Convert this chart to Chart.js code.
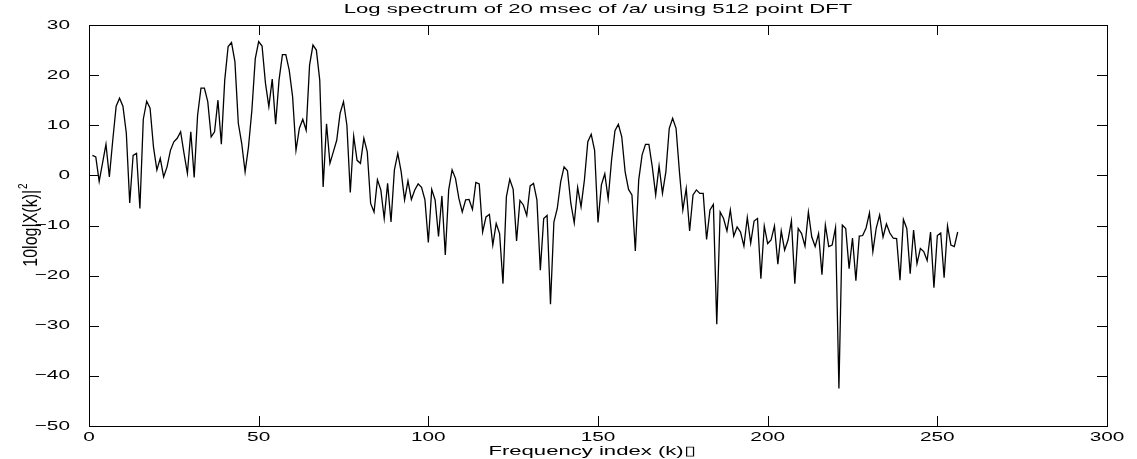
<!DOCTYPE html>
<html>
<head>
<meta charset="utf-8">
<title>Log spectrum</title>
<script src="https://cdn.jsdelivr.net/npm/chart.js@4/dist/chart.umd.min.js"></script>
<style>
  html, body { margin: 0; padding: 0; background: #fff; }
  canvas { display: block; }
</style>
</head>
<body>
<canvas id="chart" width="1137" height="459"></canvas>
<script>
// texts
const chartTitle = 'Log spectrum of 20 msec of /a/ using 512 point DFT';
const xTitle = 'Frequency index (k)\u25AF';
const yTitle = '10log|X(k)|';
const yTitleSup = '2';

// axes
const xTicks = [0, 50, 100, 150, 200, 250, 300];
const yTicks = [-50, -40, -30, -20, -10, 0, 10, 20, 30];

// first DFT bin plotted, values in dB
const firstIndex = 1;
const logSpectrum = [
  4.0, 3.7, -1.2, 2.5, 6.2, -0.3, 7.0, 13.8, 15.4, 13.8,
  8.4, -5.5, 4.0, 4.4, -6.6, 11.2, 14.8, 13.4, 5.7, 1.1,
  3.4, -0.3, 1.7, 5.0, 6.7, 7.4, 8.7, 4.4, 0.4, 8.7,
  -0.4, 12.0, 17.4, 17.4, 14.7, 7.7, 8.7, 15.0, 6.2, 19.0,
  25.7, 26.5, 22.7, 10.4, 6.4, 0.7, 5.7, 13.0, 23.3, 26.7,
  25.8, 18.4, 13.7, 19.2, 10.2, 19.0, 24.1, 24.1, 21.0, 15.7,
  5.0, 9.4, 11.2, 9.0, 22.0, 26.0, 25.0, 19.0, -2.3, 10.3,
  2.4, 4.7, 7.0, 12.4, 14.7, 10.0, -3.4, 7.8, 3.0, 2.4,
  7.4, 4.7, -5.6, -7.3, -0.9, -2.9, -8.6, -1.6, -9.3, 1.1,
  4.4, 0.7, -4.9, -1.1, -4.8, -2.9, -1.7, -2.4, -4.9, -13.4,
  -2.8, -4.9, -12.2, -4.1, -15.9, -2.9, 1.1, -0.6, -4.6, -7.3,
  -4.9, -4.8, -6.8, -1.4, -1.7, -11.3, -8.3, -7.8, -13.9, -9.6,
  -11.6, -21.6, -4.3, -0.8, -2.8, -13.1, -5.0, -5.9, -8.0, -2.1,
  -1.6, -4.9, -18.9, -8.6, -8.0, -25.7, -9.3, -6.6, -1.3, 1.7,
  0.9, -5.6, -9.5, -2.4, -6.3, -0.9, 6.7, 8.2, 5.0, -9.4,
  -1.9, 0.3, -4.7, 3.1, 8.9, 10.2, 7.7, 0.7, -2.8, -3.9,
  -15.1, -0.9, 4.1, 6.2, 6.2, 1.7, -3.9, 1.9, -3.6, 0.7,
  9.4, 11.4, 9.4, 0.7, -6.9, -2.6, -11.1, -3.9, -2.9, -3.6,
  -3.6, -12.8, -6.9, -5.8, -29.7, -7.3, -8.6, -11.1, -6.9, -12.1,
  -10.3, -11.3, -14.1, -8.4, -13.5, -9.1, -8.6, -20.6, -10.1, -13.6,
  -12.9, -10.1, -17.7, -11.1, -14.9, -12.9, -9.1, -21.6, -10.6, -11.6,
  -14.1, -7.3, -12.3, -14.2, -11.6, -19.8, -9.9, -14.2, -13.9, -10.4,
  -42.5, -9.9, -10.6, -18.6, -12.5, -21.0, -12.1, -12.0, -10.5, -7.5,
  -15.2, -10.5, -7.9, -12.3, -9.7, -11.5, -12.5, -12.6, -20.9, -8.8,
  -10.6, -19.6, -10.9, -17.6, -14.6, -15.2, -17.0, -11.3, -22.4, -12.0,
  -11.5, -20.4, -10.1, -13.9, -14.2, -11.3
];

const FONT = '13px "Liberation Sans", Arial, sans-serif';
const TICK_STRETCH = 1.6;   // the picture's text is wide
const TITLE_STRETCH = 1.7;
const TICK_LEN = 10;

function wideText(ctx, text, x, y, align, sx) {
  ctx.save();
  ctx.translate(x, y);
  ctx.scale(sx, 1);
  ctx.textAlign = align;
  ctx.textBaseline = 'middle';
  ctx.fillText(text, 0, 0);
  ctx.restore();
}

function fmt(v) {
  return v < 0 ? '\u2212' + Math.abs(v) : String(v);
}

// frame with inward ticks on all sides, labels and titles
const matlabAxes = {
  id: 'matlabAxes',
  afterDraw(chart) {
    const ctx = chart.ctx;
    const a = chart.chartArea;
    const xs = chart.scales.x;
    const ys = chart.scales.y;
    ctx.save();
    ctx.strokeStyle = '#000';
    ctx.lineWidth = 1;
    ctx.strokeRect(a.left + 0.5, a.top + 0.5, a.right - a.left, a.bottom - a.top);

    ctx.beginPath();
    xTicks.forEach(v => {
      const px = Math.round(xs.getPixelForValue(v)) + 0.5;
      ctx.moveTo(px, a.bottom); ctx.lineTo(px, a.bottom - TICK_LEN);
      ctx.moveTo(px, a.top); ctx.lineTo(px, a.top + TICK_LEN);
    });
    yTicks.forEach(v => {
      const py = Math.round(ys.getPixelForValue(v)) + 0.5;
      ctx.moveTo(a.left, py); ctx.lineTo(a.left + TICK_LEN, py);
      ctx.moveTo(a.right, py); ctx.lineTo(a.right - TICK_LEN, py);
    });
    ctx.stroke();

    ctx.fillStyle = '#000';
    ctx.font = FONT;
    xTicks.forEach(v => wideText(ctx, fmt(v), xs.getPixelForValue(v), a.bottom + 11, 'center', TICK_STRETCH));
    yTicks.forEach(v => wideText(ctx, fmt(v), a.left - 19, ys.getPixelForValue(v), 'right', TICK_STRETCH));

    const cx = (a.left + a.right) / 2;
    wideText(ctx, chartTitle, cx, 9, 'center', TITLE_STRETCH);
    wideText(ctx, xTitle, cx - 6, 451, 'center', TITLE_STRETCH);

    // rotated y title with superscript
    ctx.save();
    ctx.translate(31, (a.top + a.bottom) / 2);
    ctx.rotate(-Math.PI / 2);
    ctx.scale(1, 1.3);
    ctx.font = '16px "Liberation Sans", Arial, sans-serif';
    const w1 = ctx.measureText(yTitle).width;
    ctx.font = '10px "Liberation Sans", Arial, sans-serif';
    const w2 = ctx.measureText(yTitleSup).width;
    const x0 = -(w1 + w2) / 2;
    ctx.textBaseline = 'middle';
    ctx.textAlign = 'left';
    ctx.font = '16px "Liberation Sans", Arial, sans-serif';
    ctx.fillText(yTitle, x0, 0);
    ctx.font = '10px "Liberation Sans", Arial, sans-serif';
    ctx.fillText(yTitleSup, x0 + w1 + 1, -6);
    ctx.restore();

    ctx.restore();
  }
};

new Chart(document.getElementById('chart'), {
  type: 'line',
  data: {
    datasets: [{
      data: logSpectrum.map((v, i) => ({ x: firstIndex + i, y: v })),
      borderColor: '#000',
      borderWidth: 1.3,
      pointRadius: 0,
      tension: 0,
      fill: false
    }]
  },
  options: {
    responsive: false,
    devicePixelRatio: 1,
    animation: false,
    layout: { padding: { left: 0, top: 25, right: 30, bottom: 0 } },
    plugins: {
      legend: { display: false },
      tooltip: { enabled: false },
      title: { display: false }
    },
    scales: {
      x: {
        type: 'linear',
        min: 0,
        max: 300,
        ticks: { display: false },
        grid: { display: false },
        border: { display: false },
        afterFit: s => { s.height = 33; }
      },
      y: {
        min: -50,
        max: 30,
        ticks: { display: false },
        grid: { display: false },
        border: { display: false },
        afterFit: s => { s.width = 89; }
      }
    }
  },
  plugins: [matlabAxes]
});
</script>
</body>
</html>
